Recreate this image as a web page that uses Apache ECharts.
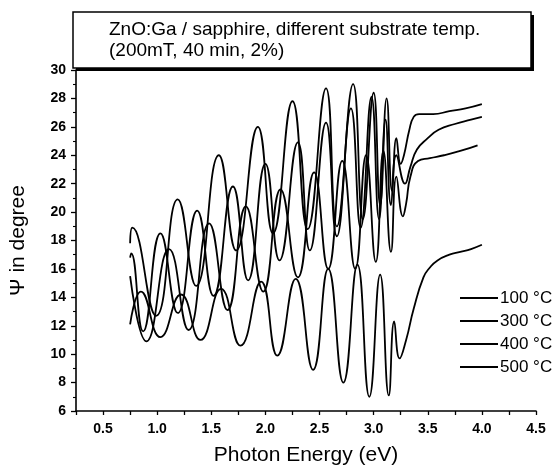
<!DOCTYPE html>
<html><head><meta charset="utf-8">
<script src="https://cdn.jsdelivr.net/npm/echarts@6/dist/echarts.min.js"></script>
<style>html,body{margin:0;padding:0;background:#fff}#c{width:555px;height:471px}</style>
</head><body><div id="c"></div>
<script>
const seriesNames = ['100 °C', '300 °C', '400 °C', '500 °C'];
const titleLines = ['ZnO:Ga / sapphire, different substrate temp.', '(200mT, 40 min, 2%)'];
const xTitle = 'Photon Energy (eV)';
const yTitle = 'Ψ in degree';

const energyA = [0.75, 0.77, 0.99, 1.19, 1.36, 1.57, 1.73, 1.93, 2.07, 2.25, 2.39, 2.56, 2.66, 2.81, 2.90, 3.00, 3.06, 3.12, 3.17, 3.21, 3.25, 3.28, 3.33, 3.37, 3.42, 3.55, 3.70, 3.85, 4.00];
const psiA    = [17.8, 18.9, 12.7, 20.9, 14.8, 24.0, 17.3, 26.0, 18.5, 27.8, 18.8, 28.7, 19.0, 29.0, 19.5, 28.4, 20.5, 28.0, 21.5, 25.2, 23.4, 24.0, 25.8, 26.7, 26.9, 26.9, 27.1, 27.3, 27.6];

const energyB = [0.75, 0.76, 0.87, 1.03, 1.19, 1.37, 1.52, 1.70, 1.84, 2.00, 2.13, 2.30, 2.41, 2.56, 2.66, 2.79, 2.88, 2.98, 3.05, 3.11, 3.16, 3.21, 3.29, 3.34, 3.40, 3.50, 3.60, 3.75, 3.90, 4.00];
const psiB    = [16.8, 17.1, 11.6, 18.5, 12.9, 20.1, 14.1, 21.8, 15.2, 23.4, 16.6, 24.9, 17.3, 26.3, 18.3, 27.3, 18.9, 28.1, 19.5, 26.5, 20.5, 24.0, 22.0, 23.2, 24.4, 25.2, 25.8, 26.2, 26.5, 26.7];

const energyC = [0.75, 0.90, 1.11, 1.29, 1.48, 1.65, 1.82, 1.98, 2.14, 2.30, 2.45, 2.58, 2.71, 2.83, 2.93, 3.02, 3.09, 3.16, 3.21, 3.27, 3.30, 3.34, 3.41, 3.52, 3.65, 3.80, 3.96];
const psiC    = [15.5, 10.9, 17.4, 11.7, 19.2, 13.1, 20.4, 14.4, 21.6, 15.4, 22.8, 16.0, 23.6, 16.0, 24.0, 16.5, 24.3, 17.2, 22.5, 19.7, 20.6, 22.5, 23.6, 23.8, 24.0, 24.3, 24.7];

const energyD = [0.75, 0.85, 1.03, 1.22, 1.40, 1.59, 1.77, 1.96, 2.11, 2.28, 2.44, 2.58, 2.72, 2.85, 2.96, 3.06, 3.14, 3.19, 3.24, 3.30, 3.37, 3.46, 3.52, 3.59, 3.70, 3.80, 3.90, 4.00];
const psiD    = [12.1, 14.4, 11.2, 14.2, 11.0, 14.6, 10.6, 15.1, 9.9, 15.3, 8.9, 16.0, 8.0, 16.3, 7.0, 15.6, 7.1, 12.3, 9.7, 11.0, 13.2, 15.4, 16.1, 16.6, 17.0, 17.2, 17.4, 17.7];

const energies = [energyA, energyB, energyC, energyD];
const psis = [psiA, psiB, psiC, psiD];

const FONT = '"Liberation Sans", Arial, sans-serif';
const chart = echarts.init(document.getElementById('c'), null, {renderer: 'canvas'});

const series = seriesNames.map((name, i) => ({
  name: name,
  type: 'line',
  data: energies[i].map((x, j) => [x, psis[i][j]]),
  showSymbol: false,
  symbol: 'none',
  smooth: 0.5,
  lineStyle: {color: '#000', width: 1.8},
  itemStyle: {color: '#000'},
  z: 3
}));

chart.setOption({
  animation: false,
  backgroundColor: '#fff',
  grid: {left: 75, right: 19, top: 70, bottom: 58, containLabel: false},
  xAxis: {
    type: 'value', min: 0.25, max: 4.5, interval: 0.25,
    name: xTitle, nameLocation: 'middle', nameGap: 34,
    nameTextStyle: {fontSize: 21, fontFamily: FONT, color: '#000'},
    axisLine: {show: true, onZero: false, lineStyle: {color: '#000', width: 1.6}},
    axisTick: {show: true, inside: false, length: 4, lineStyle: {color: '#000', width: 1.3}},
    axisLabel: {
      fontSize: 14, fontWeight: 'bold', fontFamily: FONT, color: '#000', margin: 11,
      formatter: v => (Math.abs(v * 2 - Math.round(v * 2)) < 1e-6) ? v.toFixed(1) : ''
    },
    splitLine: {show: false}
  },
  yAxis: {
    type: 'value', min: 6, max: 30, interval: 2,
    name: yTitle, nameLocation: 'middle', nameGap: 47, nameRotate: 90,
    nameTextStyle: {fontSize: 21, fontFamily: FONT, color: '#000'},
    axisLine: {show: true, onZero: false, lineStyle: {color: '#000', width: 1.6}},
    axisTick: {show: true, inside: false, length: 5, lineStyle: {color: '#000', width: 1.3}},
    minorTick: {show: true, splitNumber: 2, length: 3, lineStyle: {color: '#000', width: 1.1}},
    axisLabel: {fontSize: 14, fontWeight: 'bold', fontFamily: FONT, color: '#000', margin: 10},
    splitLine: {show: false}
  },
  legend: {
    orient: 'vertical', left: 455, top: 284,
    itemWidth: 38, itemHeight: 2, itemGap: 5, icon: 'rect',
    textStyle: {fontSize: 17, fontFamily: FONT, color: '#000', lineHeight: 18, padding: [0, 0, 0, -3]},
    data: seriesNames
  },
  graphic: [
    {type: 'rect', shape: {x: 76, y: 15, width: 458, height: 56}, style: {fill: '#000'}, z: 10},
    {type: 'rect', shape: {x: 73, y: 12, width: 458, height: 56}, style: {fill: '#fff', stroke: '#000', lineWidth: 1.5}, z: 11},
    {type: 'text', left: 109, top: 20, style: {text: titleLines[0], font: '19px ' + FONT, fill: '#000'}, z: 12},
    {type: 'text', left: 109, top: 41, style: {text: titleLines[1], font: '19px ' + FONT, fill: '#000'}, z: 12}
  ],
  series: series
});
</script>
</body></html>
